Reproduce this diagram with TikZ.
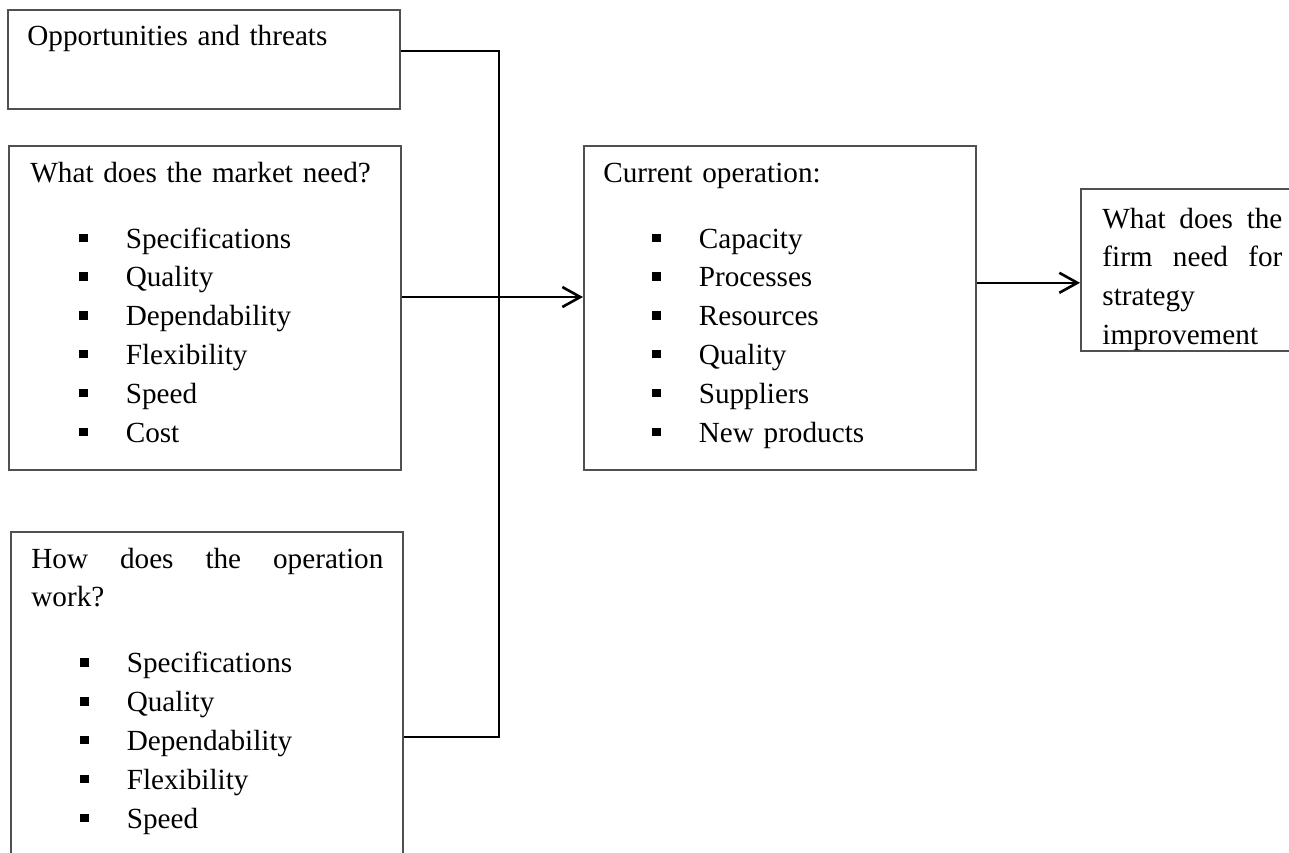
\documentclass[tikz,border=0pt]{standalone}
\usepackage{fontspec}
\setmainfont{Liberation Serif}
\usetikzlibrary{calc,arrows.meta,positioning}
\definecolor{frameGrey}{RGB}{80,80,80}
\newcommand{\sqitem}[1]{\hspace*{24.5pt}\rule[3pt]{4.2pt}{4.2pt}\hspace*{19pt}#1\par}
\newcommand{\fullline}[1]{\makebox[\hsize][s]{\spaceskip=.25em plus 1fil\relax #1}\par}
\newcommand{\titlegap}{\vspace{13.6pt}}
\tikzset{
  panel/.style={draw=frameGrey,line width=.8pt,minimum width=196pt,inner sep=0pt,anchor=north west},
  paneltext/.style={anchor=base west,inner sep=0pt,text width=176pt,align=left,font=\fontsize{14.6}{19.4}\selectfont},
  link/.style={black,line width=.9pt},
  flow/.style={black,line width=1.3pt,-{Straight Barb[length=9pt,width=10pt]}}
}
\begin{document}
\begin{tikzpicture}[x=0.5pt,y=-0.5pt]
  \useasboundingbox (0,0) rectangle (1289,852);
  \clip (0,0) rectangle (1289,852);
  % boxes
  \node[panel,minimum height=49.5pt] (opp) at (7,9) {};
  \node[panel,minimum height=162pt] (mkt) at (8,145) {};
  \node[panel,minimum height=200pt] (how) at (10,531) {};
  \node[panel,minimum height=162pt] (cur) at (583,145) {};
  \node[panel,minimum width=120pt,minimum height=81pt] (firm) at (1080,188) {};
  % texts
  \node[paneltext] (opptxt) at (27,45) {Opportunities and threats};
  \node[paneltext] (mkttxt) at (30,182) {What does the market need?\par\titlegap
    \sqitem{Specifications}\sqitem{Quality}\sqitem{Dependability}%
    \sqitem{Flexibility}\sqitem{Speed}\sqitem{Cost}};
  \node[paneltext] (howtxt) at (31,568) {\fullline{How does the operation}work?\par\titlegap
    \sqitem{Specifications}\sqitem{Quality}\sqitem{Dependability}%
    \sqitem{Flexibility}\sqitem{Speed}};
  \node[paneltext] (curtxt) at (603,182) {Current operation:\par\titlegap
    \sqitem{Capacity}\sqitem{Processes}\sqitem{Resources}%
    \sqitem{Quality}\sqitem{Suppliers}\sqitem{New products}};
  \begin{scope}
    \clip (firm.north west) rectangle (firm.south east);
    \node[paneltext,text width=90pt] (firmtxt) at (1102,228) {\fullline{What does the}%
      \fullline{firm need for}strategy\par improvement};
  \end{scope}
  % connectors
  \coordinate (jt) at (499,51);
  \coordinate (jm) at (499,297);
  \coordinate (jb) at (499,737);
  \coordinate (outlet) at ($(cur.east)+(0,-25)$);
  \draw[link] (opp.east |- jt) -- (jt) -- (jb) -- (how.east |- jb);
  \draw[link] (mkt.east |- jm) -- (jm);
  \draw[flow] (jm) -- (cur.west |- jm);
  \draw[flow] (outlet) -- (firm.west |- outlet);
\end{tikzpicture}
\end{document}
